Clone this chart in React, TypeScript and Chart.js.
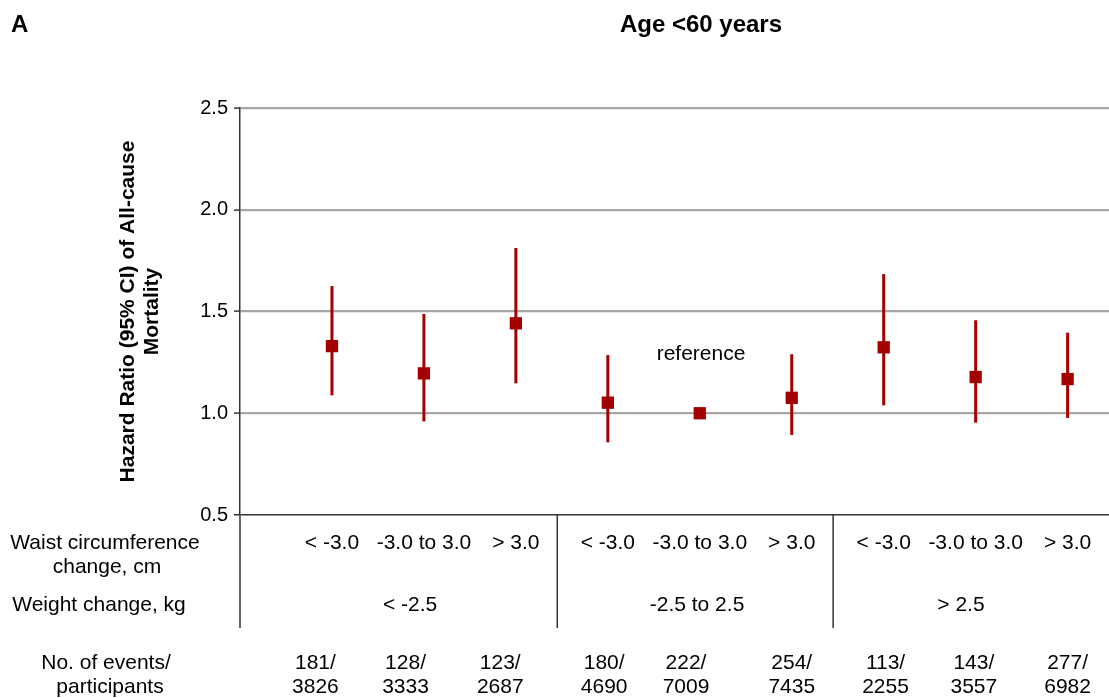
import React, { useEffect, useRef } from "react";
import { Chart, registerables } from "chart.js";

Chart.register(...registerables);

const FONT = '"Liberation Sans", Arial, sans-serif';
const RED = "#a50000";

// Data
const hazardRatio = [1.33, 1.196, 1.442, 1.052, 1.0, 1.076, 1.324, 1.178, 1.168];
const ciLower = [1.088, 0.96, 1.147, 0.857, null, 0.893, 1.039, 0.954, 0.977];
const ciUpper = [1.625, 1.488, 1.812, 1.286, null, 1.29, 1.684, 1.457, 1.396];
const waistLabels = ["< -3.0", "-3.0 to 3.0", "> 3.0", "< -3.0", "-3.0 to 3.0", "> 3.0", "< -3.0", "-3.0 to 3.0", "> 3.0"];
const weightLabels = ["< -2.5", "-2.5 to 2.5", "> 2.5"];
const events = [181, 128, 123, 180, 222, 254, 113, 143, 277];
const participants = [3826, 3333, 2687, 4690, 7009, 7435, 2255, 3557, 6982];
const yTicks = [0.5, 1.0, 1.5, 2.0, 2.5];

// layout constants (in x-scale units)
const groupLabelX = [1.85, 4.97, 7.84];
const countX = [0.82, 1.8, 2.83, 3.96, 4.85, 6.0, 7.02, 7.98, 9.0];
const dividerX = [3.45, 6.45];

const errorBarPlugin = {
  id: "errorBars",
  beforeDatasetsDraw(chart: any) {
    const { ctx, scales } = chart;
    const x = scales.x, y = scales.y;
    ctx.save();
    ctx.strokeStyle = RED;
    ctx.lineWidth = 3;
    hazardRatio.forEach((_, i) => {
      const lo = ciLower[i], hi = ciUpper[i];
      if (lo == null || hi == null) return;
      const px = x.getPixelForValue(i + 1);
      ctx.beginPath();
      ctx.moveTo(px, y.getPixelForValue(lo));
      ctx.lineTo(px, y.getPixelForValue(hi));
      ctx.stroke();
    });
    ctx.restore();
  },
};

const textPlugin = {
  id: "texts",
  afterDraw(chart: any) {
    const { ctx, scales, chartArea } = chart;
    const x = scales.x;
    ctx.save();
    ctx.fillStyle = "#000";
    ctx.textBaseline = "middle";

    // Panel letter and title
    ctx.font = `bold 24px ${FONT}`;
    ctx.textAlign = "left";
    ctx.fillText("A", 11, 25);
    ctx.textAlign = "center";
    ctx.fillText("Age <60 years", 701, 25);

    // y-axis title
    ctx.save();
    ctx.translate(128, (chartArea.top + chartArea.bottom) / 2);
    ctx.rotate(-Math.PI / 2);
    ctx.font = `bold 21px ${FONT}`;
    ctx.textAlign = "center";
    ctx.fillText("Hazard Ratio (95% CI) of All-cause", 0, 0);
    ctx.fillText("Mortality", 0, 24);
    ctx.restore();

    // reference label
    ctx.font = `21px ${FONT}`;
    ctx.textAlign = "center";
    ctx.fillText("reference", 701, 354);

    // lines below chart
    ctx.strokeStyle = "#333";
    ctx.lineWidth = 1.5;
    const bottomY = 628;
    [chartArea.left].concat(dividerX.map((v) => x.getPixelForValue(v))).forEach((px: number) => {
      ctx.beginPath();
      ctx.moveTo(px, chartArea.bottom);
      ctx.lineTo(px, bottomY);
      ctx.stroke();
    });

    // row headers
    ctx.font = `21px ${FONT}`;
    ctx.textAlign = "center";
    ctx.fillText("Waist circumference", 105, 543);
    ctx.fillText("change, cm", 107, 567);
    ctx.fillText("Weight change, kg", 99, 605);
    ctx.fillText("No. of events/", 106, 663);
    ctx.fillText("participants", 110, 687);

    // waist labels
    waistLabels.forEach((t, i) => {
      ctx.fillText(t, x.getPixelForValue(i + 1), 543);
    });
    // weight group labels
    weightLabels.forEach((t, i) => {
      ctx.fillText(t, x.getPixelForValue(groupLabelX[i]), 605);
    });
    // counts
    events.forEach((e, i) => {
      const px = x.getPixelForValue(countX[i]);
      ctx.fillText(`${e}/`, px, 663);
      ctx.fillText(`${participants[i]}`, px, 687);
    });
    ctx.restore();
  },
};

export default function App() {
  const ref = useRef<HTMLCanvasElement>(null);
  useEffect(() => {
    if (!ref.current) return;
    const chart = new Chart(ref.current, {
      type: "scatter",
      data: {
        datasets: [
          {
            data: hazardRatio.map((v, i) => ({ x: i + 1, y: v })),
            pointStyle: "rect",
            pointRadius: 8.7,
            pointHoverRadius: 8.7,
            backgroundColor: RED,
            borderColor: RED,
            borderWidth: 0,
          },
        ],
      },
      options: {
        animation: false,
        responsive: false,
        events: [],
        layout: { autoPadding: false, padding: { top: 108, bottom: 183, left: 0, right: 0 } },
        plugins: { legend: { display: false }, tooltip: { enabled: false } },
        scales: {
          x: { type: "linear", min: 0, max: 9.45, display: false },
          y: {
            type: "linear",
            min: 0.5,
            max: 2.5,
            afterFit: (s: any) => {
              s.width = 240;
            },
            afterBuildTicks: (s: any) => {
              s.ticks = yTicks.map((v) => ({ value: v }));
            },
            ticks: {
              padding: 6,
              color: "#000",
              font: { family: FONT, size: 20 },
              callback: (v: any) => Number(v).toFixed(1),
            },
            grid: {
              color: (c: any) => (c.tick && c.tick.value === 0.5 ? "#333" : "#a6a6a6"),
              lineWidth: (c: any) => (c.tick && c.tick.value === 0.5 ? 1.5 : 2.2),
              tickColor: "#333",
              tickLength: 6,
              tickWidth: 1.5,
            },
            border: { display: true, color: "#333", width: 1.5 },
          },
        },
      },
      plugins: [errorBarPlugin, textPlugin],
    });
    return () => chart.destroy();
  }, []);
  return (
    <div style={{ position: "absolute", left: 0, top: 0, width: 1109, height: 698, background: "#fff" }}>
      <canvas ref={ref} width={1109} height={698} style={{ display: "block" }} />
    </div>
  );
}
